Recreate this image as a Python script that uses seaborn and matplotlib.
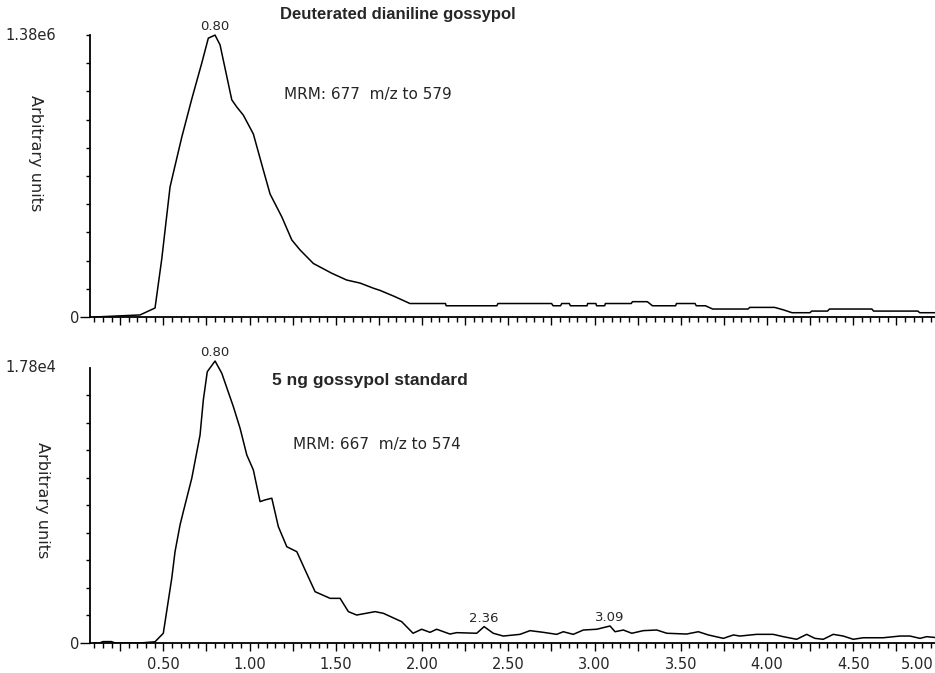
import numpy as np
import pandas as pd
import matplotlib
matplotlib.use('Agg')
import matplotlib.pyplot as plt
import matplotlib.transforms as mtransforms
from matplotlib.ticker import MultipleLocator, FuncFormatter
import seaborn as sns

# retention time (min) and intensity
top_t = [0.10, 0.365, 0.452, 0.491, 0.539, 0.558, 0.607, 0.665, 0.723, 0.761,
         0.80, 0.829, 0.897, 0.926, 0.964, 1.022, 1.080, 1.119, 1.187, 1.245,
         1.293, 1.370, 1.477, 1.563, 1.641, 1.718, 1.757, 1.839, 1.930, 2.136,
         2.14, 2.434, 2.44, 2.751, 2.76, 2.803, 2.81, 2.854, 2.86, 2.957,
         2.96, 3.008, 3.012, 3.059, 3.063, 3.213, 3.22, 3.306, 3.336, 3.470,
         3.475, 3.583, 3.59, 3.643, 3.685, 3.890, 3.90, 4.044, 4.095, 4.145,
         4.249, 4.259, 4.351, 4.362, 4.608, 4.618, 4.875, 4.885, 4.98]
# x 1e6
top_int = [0.0, 0.010, 0.044, 0.284, 0.636, 0.705, 0.880, 1.067, 1.243, 1.365,
           1.380, 1.332, 1.063, 1.028, 0.988, 0.896, 0.719, 0.602, 0.490, 0.377,
           0.328, 0.262, 0.214, 0.181, 0.166, 0.141, 0.130, 0.101, 0.066, 0.066,
           0.055, 0.055, 0.066, 0.066, 0.055, 0.055, 0.066, 0.066, 0.055, 0.055,
           0.066, 0.066, 0.055, 0.055, 0.066, 0.066, 0.075, 0.075, 0.055, 0.055,
           0.066, 0.066, 0.055, 0.055, 0.039, 0.039, 0.047, 0.047, 0.035, 0.021,
           0.021, 0.029, 0.029, 0.039, 0.039, 0.029, 0.029, 0.021, 0.021]

bot_t = [0.10, 0.13, 0.15, 0.20, 0.22, 0.365, 0.452, 0.500, 0.549, 0.568,
         0.597, 0.616, 0.665, 0.713, 0.732, 0.755, 0.800, 0.839, 0.906, 0.945,
         0.984, 1.022, 1.061, 1.090, 1.129, 1.167, 1.216, 1.274, 1.322, 1.380,
         1.467, 1.525, 1.573, 1.621, 1.728, 1.776, 1.882, 1.948, 1.998, 2.046,
         2.085, 2.162, 2.201, 2.317, 2.36, 2.413, 2.471, 2.568, 2.626, 2.703,
         2.781, 2.819, 2.877, 2.935, 3.013, 3.09, 3.119, 3.167, 3.216, 3.283,
         3.361, 3.419, 3.534, 3.602, 3.660, 3.747, 3.805, 3.843, 3.940, 4.036,
         4.094, 4.172, 4.230, 4.278, 4.326, 4.384, 4.442, 4.500, 4.558, 4.674,
         4.771, 4.829, 4.887, 4.926, 4.98]
# x 1e4
bot_int = [0, 0, 0.009, 0.009, 0, 0, 0.008, 0.063, 0.419, 0.591,
           0.764, 0.850, 1.066, 1.346, 1.573, 1.756, 1.825, 1.746, 1.530, 1.390,
           1.217, 1.120, 0.915, 0.926, 0.937, 0.753, 0.623, 0.591, 0.473, 0.332,
           0.289, 0.289, 0.203, 0.181, 0.203, 0.192, 0.138, 0.063, 0.089, 0.069,
           0.089, 0.058, 0.067, 0.063, 0.106, 0.063, 0.045, 0.056, 0.080, 0.069,
           0.056, 0.073, 0.056, 0.084, 0.089, 0.110, 0.073, 0.084, 0.063, 0.080,
           0.084, 0.063, 0.058, 0.073, 0.052, 0.030, 0.052, 0.045, 0.056, 0.056,
           0.041, 0.024, 0.056, 0.030, 0.024, 0.056, 0.045, 0.024, 0.034, 0.034,
           0.045, 0.045, 0.030, 0.041, 0.035]

top_max = 1.38e6
bot_max = 1.78e4
top_peaks = [0.80]
bot_peaks = [0.80, 2.36, 3.09]

titles = ["Deuterated dianiline gossypol", "5 ng gossypol standard"]
mrm = ["MRM: 677  m/z to 579", "MRM: 667  m/z to 574"]
max_labels = ["1.38e6", "1.78e4"]

sns.set_theme(style='white')
plt.rcParams['font.family'] = ['DejaVu Sans']

top_df = pd.DataFrame({'t': top_t, 'y': np.array(top_int) * 1e6})
bot_df = pd.DataFrame({'t': bot_t, 'y': np.array(bot_int) * 1e4})

fig = plt.figure(figsize=(9.35, 6.73), dpi=100)
ax1 = fig.add_axes([90/935, 1 - 317/673, 845/935, 286/673])
ax2 = fig.add_axes([90/935, 1 - 643/673, 845/935, 287.4/673])

sns.lineplot(data=top_df, x='t', y='y', ax=ax1, color='black', lw=1.1,
             estimator=None, sort=False)
sns.lineplot(data=bot_df, x='t', y='y', ax=ax2, color='black', lw=1.1,
             estimator=None, sort=False)

setups = [(ax1, top_df, top_max, 1.40e6, top_peaks, True),
          (ax2, bot_df, bot_max, 1.86e4, bot_peaks, False)]

for i, (ax, df, ymax, ytop, peaks, top_tick) in enumerate(setups):
    ax.set_xlim(0.075, 4.974)
    ax.set_ylim(0, ytop)
    ax.set_xlabel('')
    ax.set_ylabel('')
    for s in ['top', 'right']:
        ax.spines[s].set_visible(False)
    for s in ['left', 'bottom']:
        ax.spines[s].set_color('black')
        ax.spines[s].set_linewidth(1.3)
    ax.spines['left'].set_bounds(0, ymax)

    # x ticks
    ax.xaxis.set_major_locator(MultipleLocator(0.25))
    ax.xaxis.set_minor_locator(MultipleLocator(0.05))
    ax.tick_params(axis='x', which='major', direction='out', length=6,
                   width=1, color='black', bottom=True, pad=4, labelsize=10.5)
    ax.tick_params(axis='x', which='minor', direction='out', length=3.5,
                   width=1, color='black', bottom=True)
    if i == 0:
        ax.tick_params(axis='x', which='major', labelbottom=False)
    else:
        ax.xaxis.set_major_formatter(FuncFormatter(
            lambda v, p: f"{v:.2f}" if abs(v * 2 - round(v * 2)) < 1e-6 and v > 0.3 else ''))

    # y ticks: 0 labelled, tenths as small ticks
    minor = list(np.linspace(0, ymax, 11)[1:10])
    if top_tick:
        minor.append(ymax)
    ax.set_yticks([0])
    ax.set_yticklabels(['0'])
    ax.set_yticks(minor, minor=True)
    ax.tick_params(axis='y', which='major', direction='out', length=7,
                   width=1, color='black', left=True, pad=1, labelsize=10.5)
    ax.tick_params(axis='y', which='minor', direction='out', length=3,
                   width=1, color='black', left=True)

    trans = mtransforms.blended_transform_factory(ax.transAxes, ax.transData)
    ax.text(-0.1006, ymax, max_labels[i], transform=trans, ha='left',
            va='center', fontsize=10.5)

    for pk in peaks:
        yv = df.loc[(df['t'] - pk).abs().idxmin(), 'y']
        ax.annotate(f"{pk:.2f}", xy=(pk, yv), xytext=(0, 1.5),
                    textcoords='offset points', ha='center', va='bottom',
                    fontsize=9.5)

# last axis label: pushed against the right edge so it stays inside the figure
ax2.annotate("5.00", xy=(1.0, 0), xycoords=('axes fraction', 'axes fraction'),
             xytext=(-1, -10), textcoords='offset points', ha='right',
             va='top', fontsize=10.5, annotation_clip=False)

ax1.text(-0.064, 0.573, 'Arbitrary units', rotation=-90, transform=ax1.transAxes,
         ha='center', va='center', fontsize=11.5)
ax2.text(-0.056, 0.498, 'Arbitrary units', rotation=-90, transform=ax2.transAxes,
         ha='center', va='center', fontsize=11.5)

fig.text(397.5/935, 1 - 15/673, titles[0], ha='center', va='center',
         fontsize=12, fontweight='bold', family='Liberation Sans')
fig.text(369.5/935, 1 - 380/673, titles[1], ha='center', va='center',
         fontsize=12.5, fontweight='bold', family='Liberation Sans')
fig.text(284/935, 1 - 95/673, mrm[0], ha='left', va='center', fontsize=11)
fig.text(293/935, 1 - 445/673, mrm[1], ha='left', va='center', fontsize=11)

fig.savefig('out.png', dpi=100, facecolor='white')
